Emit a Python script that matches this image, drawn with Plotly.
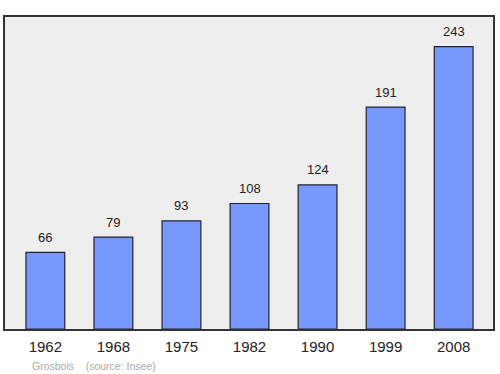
import plotly.graph_objects as go

years = ["1962", "1968", "1975", "1982", "1990", "1999", "2008"]
population = [66, 79, 93, 108, 124, 191, 243]

fig = go.Figure()
fig.add_trace(go.Bar(
    x=list(range(len(years))), y=population, width=0.57,
    marker=dict(color="#7799ff", line=dict(color="#222233", width=1.2)),
    hoverinfo="skip",
))
for i, v in enumerate(population):
    fig.add_annotation(x=i, y=v, text=str(v), showarrow=False, yshift=15,
                       font=dict(family="Liberation Sans, Arial", size=13, color="#222222"))

fig.add_annotation(xref="paper", yref="paper", x=0.052, y=-0.145, xanchor="left",
                   text="Grosbois&nbsp;&nbsp;&nbsp;&nbsp;(source: Insee)", showarrow=False,
                   font=dict(family="Liberation Sans, Arial", size=10.5, color="#aaaaaa"))

fig.update_layout(
    width=500, height=374,
    margin=dict(l=5, r=5, t=17, b=45),
    paper_bgcolor="white", plot_bgcolor="#eeeeee",
    showlegend=False,
    xaxis=dict(range=[-0.593, 6.578], tickmode="array", tickvals=list(range(len(years))),
               ticktext=years, showgrid=False, zeroline=False,
               ticks="outside", ticklen=3, tickcolor="rgba(0,0,0,0)",
               tickfont=dict(family="Liberation Sans, Arial", size=15, color="#222222"),
               showline=True, linecolor="#333333", linewidth=1.5, mirror=True),
    yaxis=dict(range=[0, 268.5], showgrid=False, zeroline=False, showticklabels=False,
               showline=True, linecolor="#333333", linewidth=1.5, mirror=True),
)
fig.write_html("out.html")
